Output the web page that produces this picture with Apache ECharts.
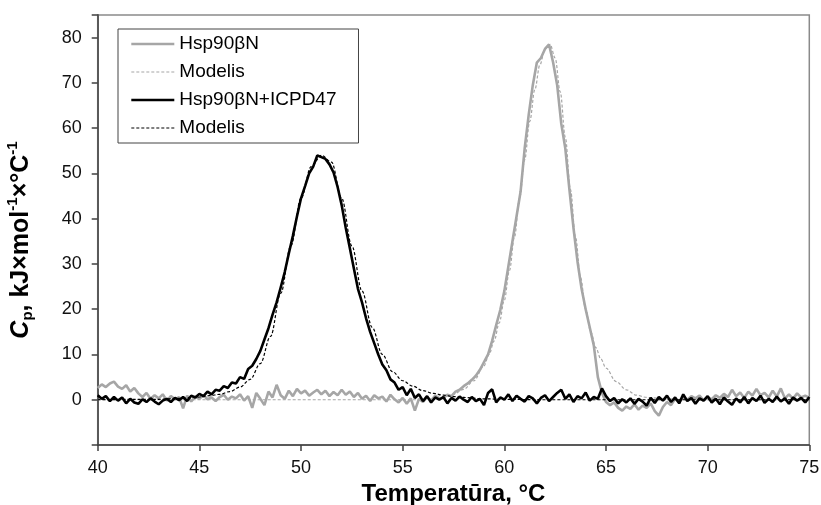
<!DOCTYPE html>
<html>
<head>
<meta charset="utf-8">
<script src="https://cdn.jsdelivr.net/npm/echarts@6/dist/echarts.min.js"></script>
<style>html,body{margin:0;padding:0;background:#fff;}#c{width:821px;height:505px;}</style>
</head>
<body>
<div id="c"></div>
<script>
// Experimental curves: sampled every 0.2 °C from 40 to 75 °C
const expStartT = 40;
const expStepT = 0.2;

const hspCp = [
  2.6, 3.4, 2.8, 3.6, 4.0, 2.9, 2.4, 3.2, 1.8, 2.6,
  1.4, 0.6, 1.5, 0.2, 1.0, 0.3, 1.2, -0.2, 0.8, 0.1,
  0.6, -1.9, 0.9, -0.4, 0.7, 0.2, 1.0, 0.1, 0.5, -0.3,
  0.6, 1.1, 0.0, 0.7, 0.3, 1.2, -0.2, 0.8, -1.8, 1.5,
  0.2, -1.2, 1.8, 0.5, 3.3, 1.0, 0.2, 2.0, 0.8, 2.4,
  1.4, 2.0, 0.9, 1.6, 2.2, 1.2, 2.0, 0.8, 1.7, 1.0,
  2.2, 1.1, 1.8, 0.6, 1.5, 0.2, 0.9, -0.3, 1.0, 0.3,
  0.7, -0.4, 1.1, 0.1, -0.6, 0.4, -0.9, 0.3, -2.4, 0.2,
  -0.5, 0.6, -0.2, 0.9, 0.3, 0.4, 1.1, 0.8, 1.8, 2.2,
  3.0, 3.6, 4.4, 5.3, 6.6, 8.3, 10.0, 13.0, 16.5, 19.8,
  24.0, 29.5, 35.0, 40.5, 46.0, 55.5, 63.0, 69.5, 74.5, 75.5,
  77.5, 78.5, 74.5, 69.5, 61.0, 55.5, 46.5, 38.0, 30.5, 24.5,
  20.0, 16.0, 12.0, 5.0, 1.5, -0.5, -1.2, -0.6, -1.8, -2.4,
  -1.5, -2.0, -1.0, -2.2, -1.3, -1.8, -0.8, -2.5, -3.5, -1.6,
  -0.5, -1.2, 0.2, -0.6, 0.5, 0.0, 0.8, 0.3, 0.9, -0.2,
  0.6, 0.1, 1.0, 0.4, 1.3, 0.6, 2.2, 0.8, 1.6, 0.4,
  1.8, 0.9, 2.4, 1.0, 1.5, 0.5, 2.0, 0.7, 2.5, 0.3,
  1.2, 0.2, 1.4, 0.5, 0.9, 0.4
];

const hspIcpdCp = [
  1.0, 0.2, 0.8, -0.3, 0.6, -0.2, 0.5, -0.8, 0.2, -0.6,
  -0.9, 0.1, -0.5, 0.3, -0.4, -1.0, -0.2, 0.2, -0.5, 0.4,
  -0.1, 0.6, -0.3, 0.9, 0.5, 1.3, 0.8, 1.8, 1.2, 2.2,
  2.0, 3.0, 2.6, 3.8, 3.6, 5.0, 4.6, 6.8, 7.5, 9.0,
  10.8, 13.3, 15.8, 18.8, 21.5, 24.8, 28.2, 32.3, 36.2, 40.5,
  44.5, 47.2, 50.0, 51.5, 54.0, 53.6, 53.2, 52.0, 50.2, 47.0,
  43.0, 38.0, 33.5, 29.0, 24.5, 21.5, 18.0, 15.0, 12.5, 10.0,
  7.8, 6.5, 4.5, 3.8, 2.2, 2.8, 1.0, 2.4, 0.4, 1.2,
  -0.3, 0.8, -0.6, 0.5, 0.0, 0.6, -0.8, 0.4, -0.2, 0.7,
  0.0, -0.5, 0.6, -0.3, 0.2, -1.2, 1.5, 2.3, -0.6, 0.5,
  0.0, 1.2, -0.3, 0.9, 0.2, -0.4, 0.8, 0.3, -0.8, 0.4,
  1.0, -0.3, 0.6, 1.5, 2.2, 0.2, 1.2, -0.5, 0.8, 0.3,
  1.6, -0.2, 0.6, 0.2, 2.5, 0.8, -0.3, 0.4, -0.8, 0.1,
  -0.6, 0.3, -0.9, 0.2, -0.4, -1.3, 0.4, -0.7, 0.6, -0.2,
  0.9, -0.5, 0.5, -0.8, 1.2, -0.3, 0.4, -0.9, 0.3, -0.2,
  0.8, -0.6, 0.2, -1.0, 0.5, -0.4, -1.1, 0.3, -0.6, 0.6,
  -0.8, 0.4, -0.3, 0.9, -0.7, 0.2, -0.5, 0.7, -0.4, 0.3,
  -0.9, 0.5, -0.2, 0.4, -0.6, 0.6
];

// Model fits
const hspModelT = [40, 56, 56.5, 57, 57.5, 58, 58.5, 59, 59.25, 59.5,
  59.75, 60, 60.25, 60.5, 60.75, 61, 61.25, 61.5, 61.75, 62,
  62.25, 62.5, 62.75, 63, 63.25, 63.5, 63.75, 64, 64.25, 64.5,
  64.75, 65, 65.5, 66, 66.5, 67, 68, 69, 75];
const hspModelCp = [0, 0, 0.3, 0.6, 1.2, 2.3, 4.2, 7.5, 10, 13,
  17, 22, 28.5, 36, 44.5, 53, 61.5, 68.5, 74, 77.5,
  78.5, 75.5, 68, 58, 46.5, 36, 27, 20, 15, 11.5,
  9, 7, 4, 2.2, 1.0, 0.5, 0.2, 0, 0];

const icpdModelT = [40, 43, 44, 45, 45.5, 46, 46.5, 47, 47.5, 48,
  48.5, 49, 49.5, 50, 50.5, 51, 51.5, 52, 52.5, 53,
  53.5, 54, 54.5, 55, 55.5, 56, 56.5, 57, 57.5, 58,
  59, 60, 62, 75];
const icpdModelCp = [0, 0.1, 0.3, 0.6, 0.9, 1.2, 1.8, 2.8, 4.5, 8,
  14, 23.5, 34, 44.5, 51.5, 54, 52.5, 44.5, 34, 24,
  16, 10, 6.2, 4.2, 3.0, 2.0, 1.4, 1.0, 0.7, 0.5,
  0.2, 0.1, 0, 0];

const seriesNames = ['Hsp90βN', 'Modelis', 'Hsp90βN+ICPD47', 'Modelis '];
const xTicks = [40, 45, 50, 55, 60, 65, 70, 75];
const yTickLabels = [0, 10, 20, 30, 40, 50, 60, 70, 80];

function expPairs(vals) {
  return vals.map((v, i) => [+(expStartT + i * expStepT).toFixed(2), v]);
}
function zip(ts, vs) { return ts.map((t, i) => [t, vs[i]]); }

const FONT = '"Liberation Sans", Arial, sans-serif';
const GRAY = '#a6a6a6';

const chart = echarts.init(document.getElementById('c'), null, {renderer: 'canvas'});
chart.setOption({
  animation: false,
  backgroundColor: '#fff',
  grid: {
    left: 97.7, right: 11.7, top: 15, bottom: 60,
    containLabel: false, outerBoundsMode: 'none',
    show: true, borderColor: '#8a8a8a', borderWidth: 1.5, backgroundColor: 'transparent'
  },
  legend: {
    show: true,
    left: 118, top: 29, orient: 'vertical',
    padding: [5, 22, 5, 12],
    itemWidth: 43, itemHeight: 20, itemGap: 8,
    backgroundColor: '#fff', borderColor: '#444', borderWidth: 1, borderRadius: 0,
    itemStyle: {opacity: 0},
    lineStyle: {width: 'inherit'},
    textStyle: {fontFamily: FONT, fontSize: 19, color: '#000', lineHeight: 20},
    data: seriesNames
  },
  xAxis: {
    type: 'value', min: xTicks[0], max: xTicks[xTicks.length - 1], interval: 5,
    axisLine: {onZero: false, lineStyle: {color: '#404040', width: 1.5}},
    axisTick: {show: true, inside: false, length: 6, lineStyle: {color: '#404040', width: 1.5}},
    axisLabel: {fontFamily: FONT, fontSize: 18, color: '#111', margin: 14},
    splitLine: {show: false},
    name: 'Temperatūra, °C', nameLocation: 'middle', nameGap: 33,
    nameTextStyle: {fontFamily: FONT, fontSize: 24, fontWeight: 'bold', color: '#000'}
  },
  yAxis: {
    type: 'value', min: -10, max: 85, interval: 10,
    axisLine: {show: true, lineStyle: {color: '#5a5a5a', width: 2}},
    axisTick: {show: true, inside: false, length: 6, lineStyle: {color: '#404040', width: 1.5}},
    axisLabel: {
      fontFamily: FONT, fontSize: 18, color: '#111', margin: 16,
      formatter: v => (yTickLabels.indexOf(v) >= 0 ? String(v) : '')
    },
    splitLine: {show: false},
    name: '{ci|C}{sub|p}{b|, kJ×mol}{sup|-1}{b|×°C}{sup|-1}',
    nameLocation: 'middle', nameGap: 62, nameRotate: 90,
    nameTextStyle: {
      padding: [0, 20, 0, 0],
      rich: {
        ci: {fontFamily: FONT, fontSize: 25, fontWeight: 'bold', fontStyle: 'italic', color: '#000', lineHeight: 30, verticalAlign: 'middle'},
        b: {fontFamily: FONT, fontSize: 25, fontWeight: 'bold', color: '#000', lineHeight: 30, verticalAlign: 'middle'},
        sub: {fontFamily: FONT, fontSize: 15, fontWeight: 'bold', color: '#000', lineHeight: 15, verticalAlign: 'bottom'},
        sup: {fontFamily: FONT, fontSize: 15, fontWeight: 'bold', color: '#000', lineHeight: 15, verticalAlign: 'top'}
      }
    }
  },
  series: [
    {name: seriesNames[0], type: 'line', data: expPairs(hspCp), showSymbol: false, symbol: 'none',
     lineStyle: {color: GRAY, width: 2.6}, itemStyle: {color: GRAY}, z: 2},
    {name: seriesNames[1], type: 'line', data: zip(hspModelT, hspModelCp), showSymbol: false, symbol: 'none',
     smooth: 0.35, smoothMonotone: 'x',
     lineStyle: {color: GRAY, width: 1.2, type: [3, 2]}, itemStyle: {color: GRAY}, z: 3},
    {name: seriesNames[2], type: 'line', data: expPairs(hspIcpdCp), showSymbol: false, symbol: 'none',
     lineStyle: {color: '#000', width: 2.6}, itemStyle: {color: '#000'}, z: 4},
    {name: seriesNames[3], type: 'line', data: zip(icpdModelT, icpdModelCp), showSymbol: false, symbol: 'none',
     smooth: 0.35, smoothMonotone: 'x',
     lineStyle: {color: '#000', width: 1.2, type: [3, 2]}, itemStyle: {color: '#000'}, z: 5}
  ]
});
</script>
</body>
</html>
